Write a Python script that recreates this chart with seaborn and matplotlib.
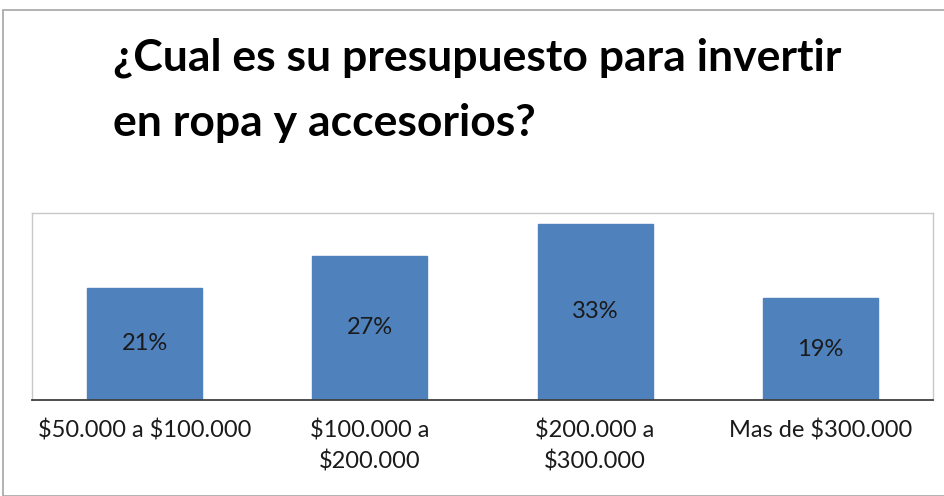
import matplotlib
matplotlib.use("Agg")
import matplotlib.pyplot as plt
import seaborn as sns
import pandas as pd
from matplotlib.patches import Rectangle

categories = ["$50.000 a $100.000", "$100.000 a\n$200.000", "$200.000 a\n$300.000", "Mas de $300.000"]
shares = [0.21, 0.27, 0.33, 0.19]
value_labels = ["21%", "27%", "33%", "19%"]
title_text = "¿Cual es su presupuesto para invertir\nen ropa y accesorios?"

sns.set_theme(style="white")
plt.rcParams["font.family"] = ["Lato", "DejaVu Sans"]
plt.rcParams["text.parse_math"] = False

df = pd.DataFrame({"rango": categories, "porcentaje": shares})

fig = plt.figure(figsize=(9.45, 4.96), dpi=100)
W, H = 945, 496

# outer chart frame
fig.patches.append(Rectangle((3 / W, 0), 1.2, 1 - 10 / H, transform=fig.transFigure,
                             fill=False, edgecolor="#A6A6A6", linewidth=1.2))

ax = fig.add_axes([32 / W, 1 - 400 / H, (933 - 32) / W, (400 - 213) / H])
sns.barplot(data=df, x="rango", y="porcentaje", color="#4F81BD", saturation=1,
            width=0.51, ax=ax)
for p in ax.patches:
    p.set_edgecolor("#4F81BD")

ax.set_ylim(0, 0.35)
ax.set_xlim(-0.5, 3.5)
ax.set_xlabel("")
ax.set_ylabel("")
ax.set_yticks([])
ax.tick_params(axis="x", length=0, pad=14, labelsize=17, labelcolor="#1a1a1a")
for t in ax.get_xticklabels():
    t.set_linespacing(1.5)

for side in ("left", "top", "right"):
    ax.spines[side].set_color("#C8C8C8")
    ax.spines[side].set_linewidth(1.0)
ax.spines["bottom"].set_color("#404040")
ax.spines["bottom"].set_linewidth(1.3)

for i, (v, lab) in enumerate(zip(shares, value_labels)):
    ax.text(i, v / 2, lab, ha="center", va="center", fontsize=17, color="#1a1a1a")

fig.text(113 / W, 1 - 37 / H, title_text, ha="left", va="top", fontsize=32,
         fontweight="bold", color="#000000", linespacing=1.78)

fig.savefig("out.png", dpi=100)
